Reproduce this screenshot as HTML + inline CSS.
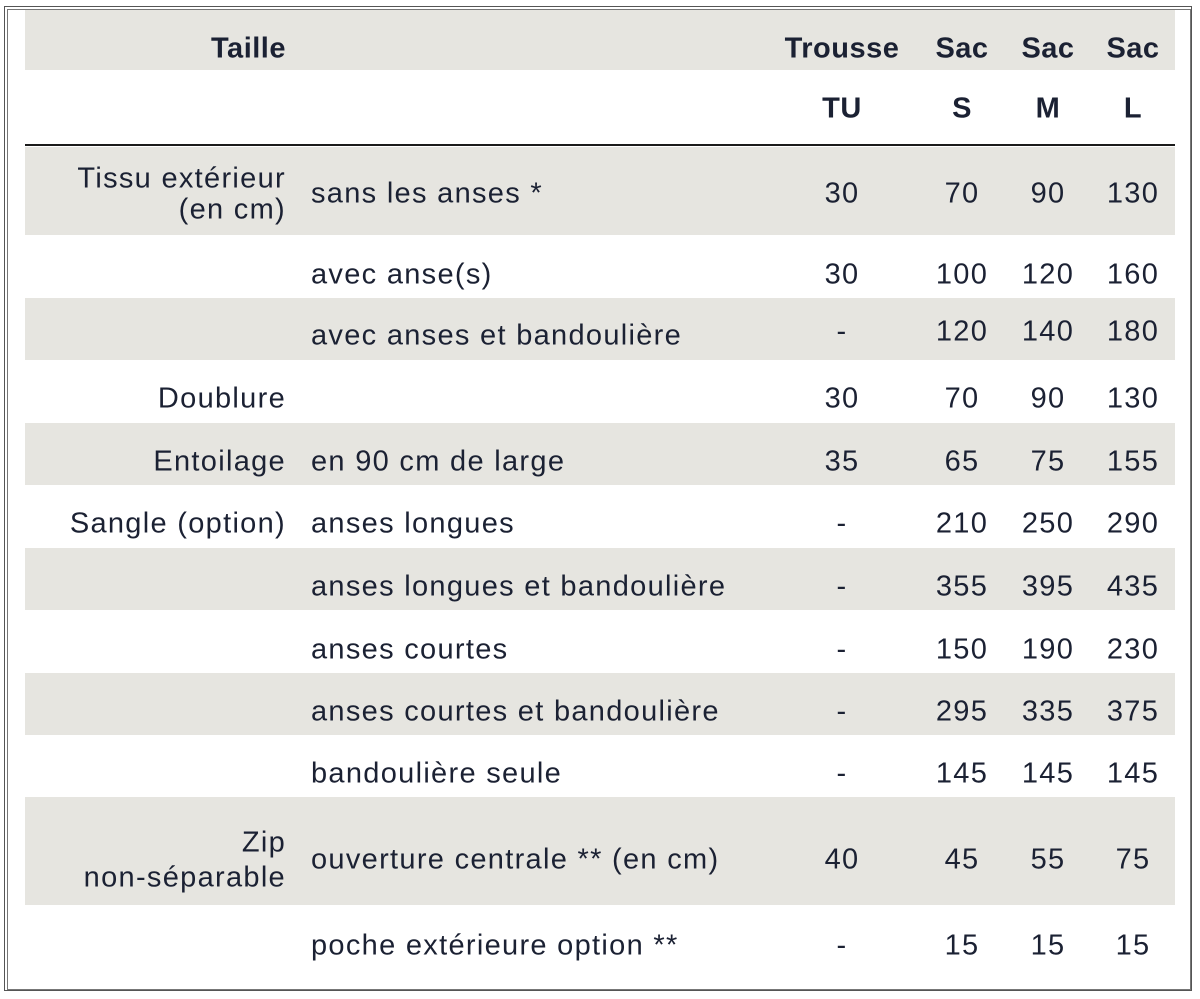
<!DOCTYPE html>
<html><head><meta charset="utf-8"><style>
html,body{margin:0;padding:0;background:#fff;}
#w{position:relative;width:1200px;height:999px;overflow:hidden;font-family:"Liberation Sans",sans-serif;color:#1b2133;font-size:29px;letter-spacing:1.3px;}
.ob{position:absolute;left:4px;top:6px;width:1186px;height:983px;border:1px solid #555;}
.ib{position:absolute;left:7px;top:9px;width:1182px;height:979px;border:1px solid #777;}
.g{position:absolute;left:25px;width:1150px;background:#e6e5e0;}
.t{position:absolute;white-space:nowrap;line-height:30px;transform:translateY(-48%);margin-top:2px;}
.r{text-align:right;right:914px;}
.c{text-align:center;width:120px;margin-left:-60px;}
.b{font-weight:bold;letter-spacing:0.5px;}
</style></head><body><div id="w">
<div class="ob"></div><div class="ib"></div>
<div class="g" style="top:10px;height:60px"></div>
<div style="position:absolute;left:25px;width:1150px;top:144px;height:2px;background:#1b1b1b"></div>
<div class="g" style="top:147px;height:88px"></div>
<div class="g" style="top:298px;height:62px"></div>
<div class="g" style="top:423px;height:62px"></div>
<div class="g" style="top:548px;height:62px"></div>
<div class="g" style="top:673px;height:62px"></div>
<div class="g" style="top:797px;height:108px"></div>

<div class="t r b" style="top:46px">Taille</div>
<div class="t c b" style="top:46px;left:842px">Trousse</div>
<div class="t c b" style="top:46px;left:962px">Sac</div>
<div class="t c b" style="top:46px;left:1048px">Sac</div>
<div class="t c b" style="top:46px;left:1133px">Sac</div>
<div class="t c b" style="top:106px;left:842px">TU</div>
<div class="t c b" style="top:106px;left:962px">S</div>
<div class="t c b" style="top:106px;left:1048px">M</div>
<div class="t c b" style="top:106px;left:1133px">L</div>

<div class="t r" style="top:176px">Tissu extérieur</div>
<div class="t r" style="top:207px">(en cm)</div>
<div class="t r" style="top:396px">Doublure</div>
<div class="t r" style="top:459px">Entoilage</div>
<div class="t r" style="top:521px">Sangle (option)</div>
<div class="t r" style="top:840px">Zip</div>
<div class="t r" style="top:875px">non-séparable</div>

<div class="t" style="left:311px;top:191px">sans les anses *</div>
<div class="t c" style="left:842px;top:191px">30</div><div class="t c" style="left:962px;top:191px">70</div><div class="t c" style="left:1048px;top:191px">90</div><div class="t c" style="left:1133px;top:191px">130</div>

<div class="t" style="left:311px;top:272px">avec anse(s)</div>
<div class="t c" style="left:842px;top:272px">30</div><div class="t c" style="left:962px;top:272px">100</div><div class="t c" style="left:1048px;top:272px">120</div><div class="t c" style="left:1133px;top:272px">160</div>

<div class="t" style="left:311px;top:333px">avec anses et bandoulière</div>
<div class="t c" style="left:842px;top:329px">-</div><div class="t c" style="left:962px;top:329px">120</div><div class="t c" style="left:1048px;top:329px">140</div><div class="t c" style="left:1133px;top:329px">180</div>

<div class="t c" style="left:842px;top:396px">30</div><div class="t c" style="left:962px;top:396px">70</div><div class="t c" style="left:1048px;top:396px">90</div><div class="t c" style="left:1133px;top:396px">130</div>

<div class="t" style="left:311px;top:459px">en 90 cm de large</div>
<div class="t c" style="left:842px;top:459px">35</div><div class="t c" style="left:962px;top:459px">65</div><div class="t c" style="left:1048px;top:459px">75</div><div class="t c" style="left:1133px;top:459px">155</div>

<div class="t" style="left:311px;top:521px">anses longues</div>
<div class="t c" style="left:842px;top:521px">-</div><div class="t c" style="left:962px;top:521px">210</div><div class="t c" style="left:1048px;top:521px">250</div><div class="t c" style="left:1133px;top:521px">290</div>

<div class="t" style="left:311px;top:584px">anses longues et bandoulière</div>
<div class="t c" style="left:842px;top:584px">-</div><div class="t c" style="left:962px;top:584px">355</div><div class="t c" style="left:1048px;top:584px">395</div><div class="t c" style="left:1133px;top:584px">435</div>

<div class="t" style="left:311px;top:647px">anses courtes</div>
<div class="t c" style="left:842px;top:647px">-</div><div class="t c" style="left:962px;top:647px">150</div><div class="t c" style="left:1048px;top:647px">190</div><div class="t c" style="left:1133px;top:647px">230</div>

<div class="t" style="left:311px;top:709px">anses courtes et bandoulière</div>
<div class="t c" style="left:842px;top:709px">-</div><div class="t c" style="left:962px;top:709px">295</div><div class="t c" style="left:1048px;top:709px">335</div><div class="t c" style="left:1133px;top:709px">375</div>

<div class="t" style="left:311px;top:771px">bandoulière seule</div>
<div class="t c" style="left:842px;top:771px">-</div><div class="t c" style="left:962px;top:771px">145</div><div class="t c" style="left:1048px;top:771px">145</div><div class="t c" style="left:1133px;top:771px">145</div>

<div class="t" style="left:311px;top:857px">ouverture centrale ** (en cm)</div>
<div class="t c" style="left:842px;top:857px">40</div><div class="t c" style="left:962px;top:857px">45</div><div class="t c" style="left:1048px;top:857px">55</div><div class="t c" style="left:1133px;top:857px">75</div>

<div class="t" style="left:311px;top:943px">poche extérieure option **</div>
<div class="t c" style="left:842px;top:943px">-</div><div class="t c" style="left:962px;top:943px">15</div><div class="t c" style="left:1048px;top:943px">15</div><div class="t c" style="left:1133px;top:943px">15</div>
</div></body></html>
